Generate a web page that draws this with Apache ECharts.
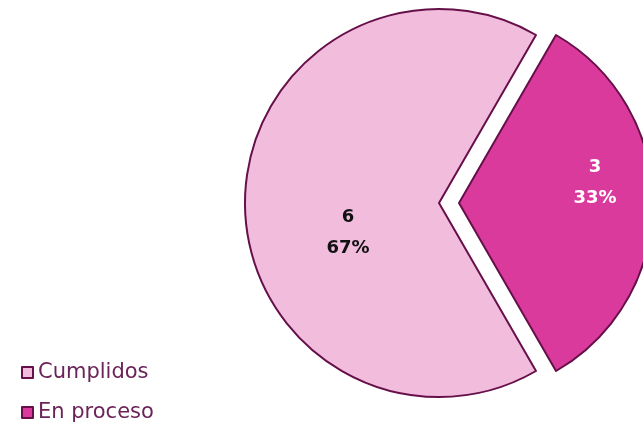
<!DOCTYPE html>
<html>
<head>
<meta charset="utf-8">
<script src="https://cdn.jsdelivr.net/npm/echarts@6/dist/echarts.min.js"></script>
<style>
  html, body { margin: 0; padding: 0; background: #fff; }
  #chart { width: 643px; height: 427px; }
</style>
</head>
<body>
<div id="chart"></div>
<script>
const categories = ['Cumplidos', 'En proceso'];
const values = [6, 3];
const colors = ['#F2BCDD', '#DA3A9C'];
const labelColors = ['#111', '#fff'];

const border = '#66104A';
const total = values.reduce((a, b) => a + b, 0);

let chart = echarts.init(document.getElementById('chart'));

const data = categories.map((name, i) => ({
    name: name,
    value: values[i],
    selected: i === 1,
    itemStyle: { color: colors[i] },
    select: { itemStyle: { color: colors[i], borderColor: border, borderWidth: 2 } },
    label: { color: labelColors[i] }
}));

const option = {
    animation: false,
    legend: {
        orient: 'vertical',
        left: 21,
        top: 362,
        padding: 0,
        height: 65,
        itemWidth: 11,
        itemHeight: 11,
        itemGap: 19,
        icon: 'rect',
        data: categories,
        itemStyle: { borderColor: border, borderWidth: 2 },
        textStyle: { fontFamily: 'DejaVu Sans', fontSize: 21, color: '#6B2358' }
    },
    series: [
        {
            type: 'pie',
            center: [439, 203],
            radius: 194,
            startAngle: 60,
            clockwise: false,
            selectedMode: 'single',
            selectedOffset: 20,
            data: data,
            itemStyle: { borderColor: border, borderWidth: 2 },
            emphasis: { disabled: true },
            label: {
                show: true,
                position: 'inside',
                fontFamily: 'DejaVu Sans',
                fontWeight: 'bold',
                fontSize: 18,
                lineHeight: 31,
                formatter: function (p) {
                    return p.value + '\n' + Math.round(p.value / total * 100) + '%';
                }
            },
            labelLayout: function (params) {
                // Excel places these labels a little off the slice middle
                return params.dataIndex === 0 ? { dx: 9, dy: 30 } : { dx: 36, dy: -20 };
            },
            labelLine: { show: false }
        }
    ]
};

chart.setOption(option);
</script>
</body>
</html>
